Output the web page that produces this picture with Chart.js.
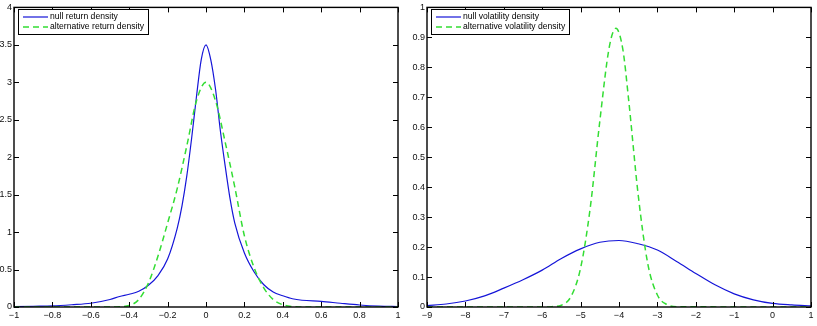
<!DOCTYPE html>
<html lang="en">
<head>
<meta charset="UTF-8">
<title>densities</title>
<script src="https://cdn.jsdelivr.net/npm/chart.js"></script>
<style>
  body { margin: 0; background: #fff; }
  #retChart { position: absolute; left: 0; top: 0; }
  #volChart { position: absolute; left: 400px; top: 0; }
</style>
</head>
<body>
<canvas id="retChart" width="410" height="326"></canvas>
<canvas id="volChart" width="417" height="326"></canvas>
<script>
// left panel - return densities
var retX = [-1, -0.9, -0.8, -0.7, -0.6, -0.5, -0.45, -0.4, -0.35, -0.3, -0.25, -0.2, -0.15, -0.125, -0.1, -0.075, -0.05, -0.025, 0,
            0.025, 0.05, 0.075, 0.1, 0.125, 0.15, 0.2, 0.25, 0.3, 0.35, 0.4, 0.45, 0.5, 0.6, 0.7, 0.8, 0.9, 1];
var retNull = [0.005, 0.01, 0.015, 0.03, 0.05, 0.1, 0.14, 0.17, 0.21, 0.29, 0.42, 0.64, 1.05, 1.35, 1.75, 2.25, 2.8, 3.3, 3.5,
               3.3, 2.9, 2.35, 1.88, 1.45, 1.12, 0.72, 0.47, 0.3, 0.2, 0.15, 0.11, 0.09, 0.075, 0.05, 0.027, 0.012, 0.005];
var retAltX = [-1, -0.5, -0.45, -0.4, -0.35, -0.3, -0.25, -0.2, -0.15, -0.1, -0.05, 0, 0.05, 0.1, 0.15, 0.2, 0.25, 0.3, 0.35, 0.4, 0.45, 0.5, 1];
var retAlt = [0, 0, 0.004, 0.02, 0.1, 0.32, 0.68, 1.12, 1.58, 2.15, 2.75, 3.0, 2.75, 2.2, 1.6, 0.95, 0.53, 0.26, 0.1, 0.03, 0.006, 0, 0];
var retTicksX = [-1, -0.8, -0.6, -0.4, -0.2, 0, 0.2, 0.4, 0.6, 0.8, 1];
var retTicksY = [0, 0.5, 1, 1.5, 2, 2.5, 3, 3.5, 4];

// right panel - volatility densities
var volX = [-9, -8.5, -8, -7.5, -7, -6.5, -6, -5.5, -5, -4.5, -4, -3.5, -3, -2.5, -2, -1.5, -1, -0.5, 0, 0.5, 1];
var volNull = [0.005, 0.01, 0.02, 0.037, 0.063, 0.091, 0.123, 0.162, 0.194, 0.216, 0.222, 0.211, 0.19, 0.152, 0.112, 0.074, 0.044, 0.024, 0.012, 0.007, 0.004];
var volAltX = [-9, -6, -5.75, -5.5, -5.25, -5, -4.75, -4.5, -4.25, -4.08, -3.9, -3.75, -3.5, -3.25, -3, -2.75, -2.5, 1];
var volAlt = [0, 0, 0.001, 0.006, 0.035, 0.13, 0.33, 0.62, 0.87, 0.93, 0.86, 0.693, 0.374, 0.144, 0.04, 0.008, 0.001, 0];
var volTicksX = [-9, -8, -7, -6, -5, -4, -3, -2, -1, 0, 1];
var volTicksY = [0, 0.1, 0.2, 0.3, 0.4, 0.5, 0.6, 0.7, 0.8, 0.9, 1];

var FONT = "'Liberation Sans', Arial, Helvetica, sans-serif";
Chart.defaults.font.family = FONT;
Chart.defaults.font.size = 9;
Chart.defaults.color = '#111';

function pts(xs, ys) {
    return xs.map(function (x, i) { return { x: x, y: ys[i] }; });
}

function fmt(v) {
    return String(v).replace('-', '\u2212');
}

// matlab-like box, inward ticks and legend
var boxPlugin = {
    id: 'matlabBox',
    afterDraw: function (chart) {
        var ctx = chart.ctx, a = chart.chartArea;
        var sx = chart.scales.x, sy = chart.scales.y;
        ctx.save();
        ctx.strokeStyle = '#000';
        ctx.lineWidth = 1;
        ctx.beginPath();
        sx.ticks.forEach(function (t) {
            var px = Math.round(sx.getPixelForValue(t.value)) + 0.5;
            ctx.moveTo(px, a.bottom); ctx.lineTo(px, a.bottom - 5);
            ctx.moveTo(px, a.top); ctx.lineTo(px, a.top + 5);
        });
        sy.ticks.forEach(function (t) {
            var py = Math.round(sy.getPixelForValue(t.value)) + 0.5;
            ctx.moveTo(a.left, py); ctx.lineTo(a.left + 5, py);
            ctx.moveTo(a.right, py); ctx.lineTo(a.right - 5, py);
        });
        ctx.stroke();
        ctx.lineWidth = 1.4;
        ctx.strokeRect(a.left, a.top, a.right - a.left, a.bottom - a.top);

        // legend
        var ds = chart.data.datasets;
        ctx.font = '8.6px ' + FONT;
        var tw = Math.max.apply(null, ds.map(function (d) { return ctx.measureText(d.label).width; }));
        var bx = Math.round(a.left) + 4, by = Math.round(a.top) + 2, bw = Math.round(tw) + 36, bh = 25;
        ctx.fillStyle = '#fff';
        ctx.fillRect(bx, by, bw, bh);
        ctx.lineWidth = 1;
        ctx.strokeStyle = '#000';
        ctx.strokeRect(bx + 0.5, by + 0.5, bw, bh);
        ds.forEach(function (d, i) {
            var cy = by + 8 + i * 10;
            ctx.strokeStyle = d.borderColor;
            ctx.lineWidth = d.borderWidth;
            ctx.setLineDash(d.borderDash || []);
            ctx.beginPath(); ctx.moveTo(bx + 5, cy); ctx.lineTo(bx + 30, cy); ctx.stroke();
            ctx.setLineDash([]);
            ctx.fillStyle = '#000';
            ctx.textBaseline = 'middle';
            ctx.fillText(d.label, bx + 32, cy);
        });
        ctx.restore();
    }
};

function makeChart(id, opt) {
    var ctx = document.getElementById(id).getContext('2d');
    return new Chart(ctx, {
        type: 'line',
        data: {
            datasets: [
                { label: opt.nullLabel, data: pts(opt.nx, opt.ny), borderColor: '#1515d8', borderWidth: 1.2,
                  pointRadius: 0, cubicInterpolationMode: 'monotone', order: 1 },
                { label: opt.altLabel, data: pts(opt.ax, opt.ay), borderColor: '#33dd33', borderWidth: 1.5,
                  borderDash: [6, 4], pointRadius: 0, cubicInterpolationMode: 'monotone', order: 0 }
            ]
        },
        options: {
            responsive: false,
            animation: false,
            events: [],
            layout: { padding: { left: 0, top: 5, right: opt.padRight, bottom: 0 } },
            plugins: { legend: { display: false }, tooltip: { enabled: false } },
            scales: {
                x: {
                    type: 'linear', min: opt.xTicks[0], max: opt.xTicks[opt.xTicks.length - 1],
                    grid: { display: false, drawTicks: false },
                    border: { display: false },
                    ticks: { padding: 3, maxRotation: 0, autoSkip: false, callback: fmt },
                    afterBuildTicks: function (s) { s.ticks = opt.xTicks.map(function (v) { return { value: v }; }); },
                    afterFit: function (s) { s.height = 19; }
                },
                y: {
                    type: 'linear', min: opt.yTicks[0], max: opt.yTicks[opt.yTicks.length - 1],
                    grid: { display: false, drawTicks: false },
                    border: { display: false },
                    ticks: { padding: 2, autoSkip: false, callback: fmt },
                    afterBuildTicks: function (s) { s.ticks = opt.yTicks.map(function (v) { return { value: v }; }); },
                    afterFit: function (s) { s.width = opt.yWidth; }
                }
            }
        },
        plugins: [boxPlugin]
    });
}

makeChart('retChart', {
    nullLabel: 'null return density', altLabel: 'alternative return density',
    nx: retX, ny: retNull, ax: retAltX, ay: retAlt,
    xTicks: retTicksX, yTicks: retTicksY, yWidth: 14, padRight: 12
});
makeChart('volChart', {
    nullLabel: 'null volatility density', altLabel: 'alternative volatility density',
    nx: volX, ny: volNull, ax: volAltX, ay: volAlt,
    xTicks: volTicksX, yTicks: volTicksY, yWidth: 27, padRight: 6
});
</script>
</body>
</html>
